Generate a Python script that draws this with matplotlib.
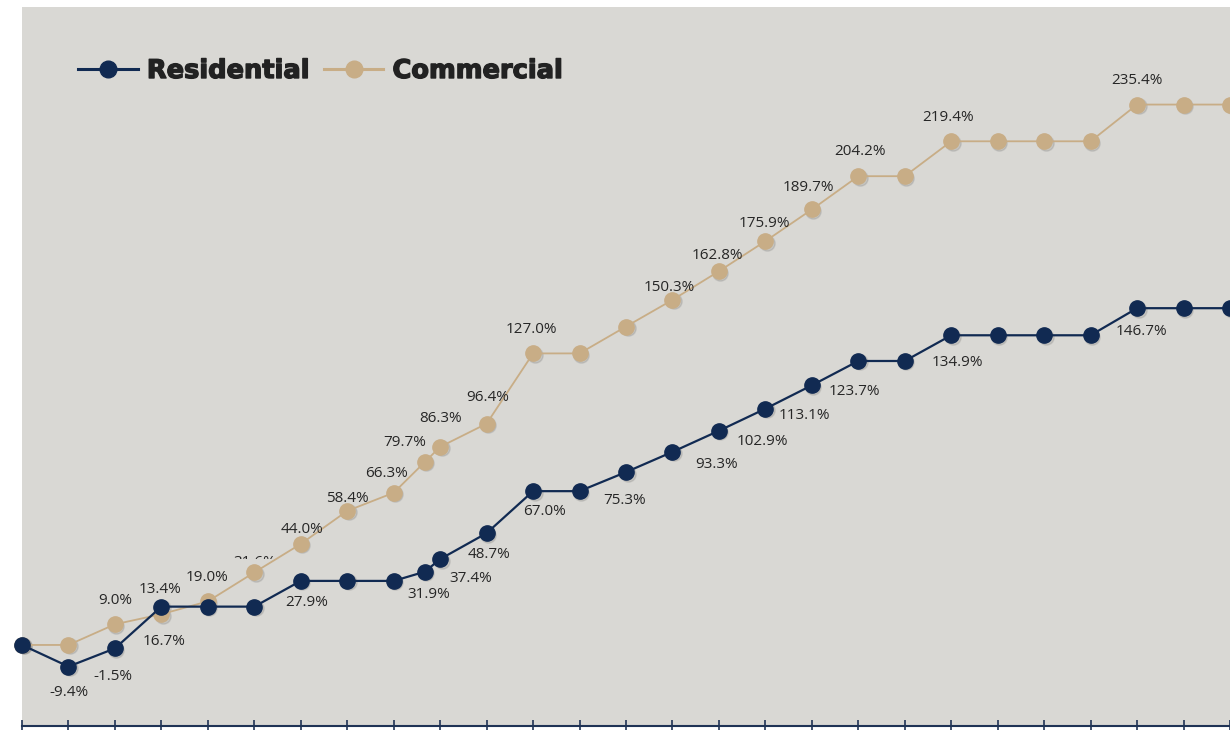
import matplotlib
matplotlib.use('Agg')
import matplotlib.pyplot as plt
import matplotlib.patheffects as pe
from matplotlib.transforms import Bbox, offset_copy
from matplotlib.font_manager import FontProperties

# period index (one extra reading sits between periods 8 and 9)
periods = [0, 1, 2, 3, 4, 5, 6, 7, 8, 8.67, 9, 10, 11, 12, 13, 14, 15, 16,
           17, 18, 19, 20, 21, 22, 23, 24, 25, 26]
residential = [0.0, -9.4, -1.5, 16.7, 16.7, 16.7, 27.9, 27.9, 27.9, 31.9, 37.4,
               48.7, 67.0, 67.0, 75.3, 84.1, 93.3, 102.9, 113.1, 123.7, 123.7,
               134.9, 134.9, 134.9, 134.9, 146.7, 146.7, 146.7]
commercial = [0.0, 0.0, 9.0, 13.4, 19.0, 31.6, 44.0, 58.4, 66.3, 79.7, 86.3,
              96.4, 127.0, 127.0, 138.7, 150.3, 162.8, 175.9, 189.7, 204.2,
              204.2, 219.4, 219.4, 219.4, 219.4, 235.4, 235.4, 235.4]
series_names = ['Residential', 'Commercial']

NAVY = '#112a52'
TAN = '#c8ad86'
BG = '#d9d8d4'
TXT = '#262626'

W, H = 1230, 730

# label nudges in pixels (dx, dy), one per labelled point, in order
res_offsets = [(0, -26), (-2, -28), (3, -35), (6, -22), (4, -23), (31, -19),
               (2, -21), (11, -20), (-1, -28), (-3, -30), (-2, -34), (-3, -33),
               (-7, -30), (-4, -31), (6, -27), (4, -23)]
com_offsets = [(0, 24), (-1, 25), (-1, 24), (0, 10), (1, 14), (0, 12), (-7, 19),
               (-20, 19), (0, 28), (1, 26), (-2, 24), (-2, 21), (-3, 12),
               (-2, 16), (-1, 18), (-3, 22), (2, 25), (-3, 24), (0, 24)]
# a few labels are partly hidden in the original: visible band in image rows
res_clip = {15: (0, 468)}
com_clip = {5: (0, 559), 14: (309, H)}


def changed_points(vals):
    return [i for i in range(1, len(vals)) if vals[i] != vals[i - 1]]


fig = plt.figure(figsize=(W / 100, H / 100), dpi=100, facecolor='white')
ax = fig.add_axes([22 / W, 4 / H, (W - 22) / W, (726 - 7) / H])
ax.set_facecolor(BG)

ax.set_xlim(0, (W - 22) / 46.5)
ax.set_ylim(-35.3, 277.9)

# soft marker shadows
shadow_tr = offset_copy(ax.transData, fig=fig, x=1.5, y=-1.5, units='dots')
for vals in (commercial, residential):
    ax.plot(periods, vals, ls='none', marker='o', ms=11, color='black',
            alpha=0.09, transform=shadow_tr, clip_on=False, zorder=2)

l_com, = ax.plot(periods, commercial, color=TAN, lw=1.3, marker='o', ms=11,
                 mfc=TAN, mec=TAN, clip_on=False, zorder=3)
l_res, = ax.plot(periods, residential, color=NAVY, lw=1.6, marker='o', ms=11,
                 mfc=NAVY, mec=NAVY, clip_on=False, zorder=4)

label_font = dict(family='Open Sans', size=11, color=TXT)
for vals, offs, clips in ((residential, res_offsets, res_clip),
                          (commercial, com_offsets, com_clip)):
    for k, i in enumerate(changed_points(vals)):
        dx, dy = offs[k]
        t = ax.annotate(f'{vals[i]:.1f}%', xy=(periods[i], vals[i]),
                        xytext=(dx, dy), textcoords='offset pixels',
                        ha='center', va='center', zorder=5, **label_font)
        if i in clips:
            top, bottom = clips[i]
            t.set_clip_box(Bbox([[0, H - bottom], [W, H - top]]))
            t.set_clip_on(True)

for side in ('left', 'top', 'right'):
    ax.spines[side].set_visible(False)
ax.spines['bottom'].set_color('#1f3355')
ax.spines['bottom'].set_linewidth(1.5)
ax.set_xticks(range(0, 27))
ax.set_yticks([])
ax.tick_params(axis='x', direction='inout', length=8, width=1.2,
               colors='#1f3355', labelbottom=False)

leg = ax.legend([l_res, l_com], series_names, ncol=2, loc='center left',
                bbox_to_anchor=(78 / W, 1 - 71 / H), bbox_transform=fig.transFigure,
                frameon=False, borderpad=0, borderaxespad=0, handlelength=2.33,
                handletextpad=0.35, columnspacing=0.54, labelcolor='#222222',
                prop=FontProperties(family='DejaVu Sans', weight='bold', size=18.5))
for line in leg.get_lines():
    line.set_linewidth(2.2)
    line.set_markersize(12)
for t in leg.get_texts():
    t.set_path_effects([pe.withStroke(linewidth=1.0, foreground='#222222')])

fig.savefig('out.png', dpi=100, facecolor='white')
